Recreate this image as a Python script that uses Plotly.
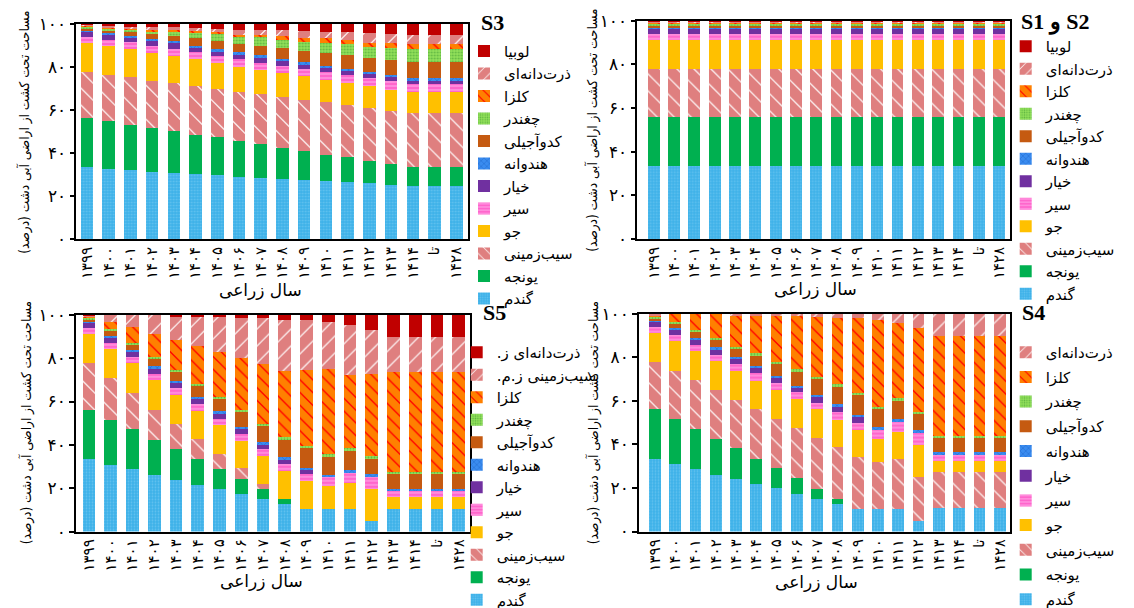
import plotly.graph_objects as go

# ---------------- data ----------------
years = ["۱۳۹۹", "۱۴۰۰", "۱۴۰۱", "۱۴۰۲", "۱۴۰۳", "۱۴۰۴", "۱۴۰۵", "۱۴۰۶", "۱۴۰۷",
         "۱۴۰۸", "۱۴۰۹", "۱۴۱۰", "۱۴۱۱", "۱۴۱۲", "۱۴۱۳", "۱۴۱۴", "تا", "۱۴۲۸"]
y_ticktext = ["۰", "۲۰", "۴۰", "۶۰", "۸۰", "۱۰۰"]

crops_main = ["گندم", "یونجه", "سیب‌زمینی", "جو", "سیر", "خیار", "هندوانه",
              "کدوآجیلی", "چغندر", "کلزا", "ذرت‌دانه‌ای", "لوبیا"]
crops_s5 = ["گندم", "یونجه", "سیب‌زمینی", "جو", "سیر", "خیار", "هندوانه",
            "کدوآجیلی", "چغندر", "کلزا", "سیب‌زمینی ز.م.", "ذرت‌دانه‌ای ز."]
crops_s4 = ["گندم", "یونجه", "سیب‌زمینی", "جو", "سیر", "خیار", "هندوانه",
            "کدوآجیلی", "چغندر", "کلزا", "ذرت‌دانه‌ای"]

# S1 and S2 (constant pattern)
s12_wheat = [33.3, 33.3, 33.3, 33.3, 33.3, 33.3, 33.3, 33.3, 33.3, 33.3, 33.3, 33.3, 33.3, 33.3, 33.3, 33.3, 33.3, 33.3]
s12_alfalfa = [22.8, 22.8, 22.8, 22.8, 22.8, 22.8, 22.8, 22.8, 22.8, 22.8, 22.8, 22.8, 22.8, 22.8, 22.8, 22.8, 22.8, 22.8]
s12_potato = [21.6, 21.6, 21.6, 21.6, 21.6, 21.6, 21.6, 21.6, 21.6, 21.6, 21.6, 21.6, 21.6, 21.6, 21.6, 21.6, 21.6, 21.6]
s12_barley = [13.4, 13.4, 13.4, 13.4, 13.4, 13.4, 13.4, 13.4, 13.4, 13.4, 13.4, 13.4, 13.4, 13.4, 13.4, 13.4, 13.4, 13.4]
s12_garlic = [2.8, 2.8, 2.8, 2.8, 2.8, 2.8, 2.8, 2.8, 2.8, 2.8, 2.8, 2.8, 2.8, 2.8, 2.8, 2.8, 2.8, 2.8]
s12_cucumber = [2.2, 2.2, 2.2, 2.2, 2.2, 2.2, 2.2, 2.2, 2.2, 2.2, 2.2, 2.2, 2.2, 2.2, 2.2, 2.2, 2.2, 2.2]
s12_watermelon = [1.1, 1.1, 1.1, 1.1, 1.1, 1.1, 1.1, 1.1, 1.1, 1.1, 1.1, 1.1, 1.1, 1.1, 1.1, 1.1, 1.1, 1.1]
s12_pumpkin = [0.9, 0.9, 0.9, 0.9, 0.9, 0.9, 0.9, 0.9, 0.9, 0.9, 0.9, 0.9, 0.9, 0.9, 0.9, 0.9, 0.9, 0.9]
s12_beet = [0.8, 0.8, 0.8, 0.8, 0.8, 0.8, 0.8, 0.8, 0.8, 0.8, 0.8, 0.8, 0.8, 0.8, 0.8, 0.8, 0.8, 0.8]
s12_canola = [0.4, 0.4, 0.4, 0.4, 0.4, 0.4, 0.4, 0.4, 0.4, 0.4, 0.4, 0.4, 0.4, 0.4, 0.4, 0.4, 0.4, 0.4]
s12_corn = [0.3, 0.3, 0.3, 0.3, 0.3, 0.3, 0.3, 0.3, 0.3, 0.3, 0.3, 0.3, 0.3, 0.3, 0.3, 0.3, 0.3, 0.3]
s12_bean = [0.4, 0.4, 0.4, 0.4, 0.4, 0.4, 0.4, 0.4, 0.4, 0.4, 0.4, 0.4, 0.4, 0.4, 0.4, 0.4, 0.4, 0.4]

# S3
s3_wheat = [33.3, 32.6, 32.0, 31.3, 30.8, 30.2, 29.9, 29.1, 28.6, 28.0, 27.5, 26.8, 26.5, 25.9, 25.3, 24.8, 24.8, 24.8]
s3_alfalfa = [22.8, 22.2, 21.2, 20.3, 19.3, 18.4, 17.4, 16.4, 15.5, 14.5, 13.5, 12.5, 11.6, 10.5, 9.7, 8.9, 8.9, 8.9]
s3_potato = [21.6, 21.6, 22.1, 22.1, 22.4, 22.7, 22.7, 23.0, 23.5, 23.6, 23.6, 24.3, 24.3, 24.7, 24.7, 24.7, 24.7, 24.7]
s3_barley = [13.4, 13.5, 13.2, 12.8, 12.7, 12.5, 12.0, 11.6, 10.8, 10.9, 11.1, 10.5, 10.3, 9.9, 9.7, 9.8, 9.8, 9.8]
s3_garlic = [2.8, 2.9, 3.0, 3.3, 3.3, 3.0, 3.0, 3.7, 3.7, 3.7, 3.4, 3.7, 3.7, 3.7, 3.9, 3.9, 3.9, 3.9]
s3_cucumber = [2.2, 2.0, 1.9, 2.4, 2.7, 2.2, 2.2, 1.8, 2.4, 2.2, 1.8, 1.9, 1.9, 1.9, 1.9, 1.8, 1.8, 1.8]
s3_watermelon = [1.1, 1.0, 1.0, 0.9, 0.7, 1.0, 1.0, 1.2, 0.9, 1.0, 1.5, 1.0, 1.0, 1.0, 1.0, 0.9, 0.9, 0.9]
s3_pumpkin = [0.9, 1.4, 1.9, 2.1, 2.5, 3.4, 3.7, 3.9, 4.5, 4.9, 5.2, 5.9, 6.2, 6.7, 7.0, 7.6, 7.6, 7.6]
s3_beet = [0.8, 0.9, 1.0, 1.5, 1.9, 2.5, 3.4, 3.3, 3.9, 4.0, 4.2, 4.5, 5.2, 4.9, 5.6, 5.9, 5.9, 5.9]
s3_canola = [0.4, 0.5, 0.5, 0.6, 0.7, 0.9, 1.0, 0.8, 1.0, 1.5, 1.9, 2.2, 1.9, 2.1, 2.2, 2.2, 2.2, 2.2]
s3_corn = [0.3, 0.6, 1.0, 1.5, 1.8, 1.3, 1.5, 2.5, 2.5, 2.7, 3.0, 3.0, 3.7, 4.5, 4.5, 4.5, 4.5, 4.5]
s3_bean = [0.4, 0.7, 1.2, 1.2, 1.2, 1.9, 2.2, 2.7, 2.7, 3.0, 3.3, 3.7, 3.7, 4.2, 4.5, 5.0, 5.0, 5.0]

# S5
s5_wheat = [33.3, 30.6, 28.7, 26.1, 23.9, 21.7, 19.5, 17.3, 14.8, 12.6, 10.3, 10.3, 10.2, 4.7, 10.6, 10.6, 10.6, 10.6]
s5_alfalfa = [22.8, 21.0, 18.5, 16.2, 14.0, 11.8, 9.3, 6.9, 4.7, 2.2, 0, 0, 0, 0, 0, 0, 0, 0]
s5_potato = [21.6, 19.2, 16.7, 14.0, 11.8, 9.2, 7.2, 4.9, 2.5, 0, 0, 0, 0, 0, 0, 0, 0, 0]
s5_barley = [13.4, 13.3, 13.7, 13.6, 13.3, 13.0, 13.0, 12.9, 13.0, 13.1, 12.9, 10.6, 12.3, 14.8, 5.2, 5.2, 5.2, 5.2]
s5_garlic = [2.8, 3.1, 3.0, 3.0, 3.2, 3.2, 3.0, 3.1, 3.0, 3.1, 3.2, 4.1, 4.7, 5.9, 2.7, 2.7, 2.7, 2.7]
s5_cucumber = [2.2, 2.2, 2.2, 2.2, 2.2, 2.2, 2.2, 2.1, 2.1, 2.2, 2.1, 0, 0, 0, 0, 0, 0, 0]
s5_watermelon = [1.1, 1.0, 1.0, 1.2, 1.2, 1.2, 1.2, 1.2, 1.2, 1.0, 1.0, 1.0, 1.2, 1.0, 1.0, 1.0, 1.0, 1.0]
s5_pumpkin = [0.9, 2.5, 2.7, 3.7, 4.4, 5.2, 6.2, 6.9, 7.8, 8.4, 8.9, 8.9, 9.3, 7.4, 7.1, 7.1, 7.1, 7.1]
s5_beet = [0.8, 0.4, 0.7, 0.7, 0.7, 0.7, 0.7, 0.7, 0.7, 0.9, 1.0, 0.7, 0.7, 0.9, 1.0, 1.0, 1.0, 1.0]
s5_canola = [0.4, 3.4, 7.3, 10.6, 13.6, 17.4, 20.7, 24.1, 27.3, 30.6, 35.0, 39.4, 33.8, 38.0, 45.8, 45.8, 45.8, 45.8]
s5_potato_zm = [0.3, 3.2, 6.2, 8.6, 11.2, 13.6, 16.0, 18.5, 21.4, 23.6, 23.3, 21.6, 23.0, 20.2, 16.2, 16.2, 16.2, 16.2]
s5_corn_z = [0.4, 0, 0, 0, 0.3, 0.7, 1.0, 1.5, 1.5, 2.2, 2.2, 3.2, 4.7, 7.1, 10.3, 10.3, 10.3, 10.3]

# S4
s4_wheat = [33.3, 30.9, 28.7, 26.1, 23.9, 21.7, 19.8, 17.3, 14.8, 12.6, 10.3, 10.3, 10.2, 4.7, 10.6, 10.6, 10.6, 10.6]
s4_alfalfa = [22.8, 20.7, 18.5, 16.5, 14.3, 11.8, 9.3, 7.1, 4.7, 2.2, 0, 0, 0, 0, 0, 0, 0, 0]
s4_potato = [21.6, 22.2, 22.2, 22.2, 22.2, 22.5, 22.6, 22.9, 23.6, 23.9, 23.9, 21.7, 23.0, 20.2, 16.5, 16.5, 16.5, 16.5]
s4_barley = [13.4, 13.4, 13.3, 13.3, 13.4, 13.3, 13.3, 13.3, 13.0, 12.6, 12.6, 10.6, 12.6, 14.8, 5.3, 5.3, 5.3, 5.3]
s4_garlic = [2.8, 3.0, 3.0, 3.0, 3.0, 3.4, 3.2, 3.5, 3.0, 3.7, 3.2, 4.1, 4.4, 5.6, 2.5, 2.5, 2.5, 2.5]
s4_cucumber = [2.2, 2.2, 2.1, 2.4, 2.2, 2.2, 2.2, 1.9, 2.5, 2.2, 2.4, 0, 0, 0, 0, 0, 0, 0]
s4_watermelon = [1.1, 1.0, 1.0, 1.0, 1.0, 1.0, 1.0, 1.0, 1.0, 1.2, 1.3, 1.2, 1.5, 1.2, 1.5, 1.5, 1.5, 1.5]
s4_pumpkin = [0.9, 2.2, 3.0, 3.7, 4.1, 5.2, 5.9, 6.8, 7.5, 8.4, 9.0, 8.7, 8.7, 7.4, 6.6, 6.6, 6.6, 6.6]
s4_beet = [0.8, 0.7, 0.7, 0.7, 0.7, 0.7, 0.7, 0.7, 1.0, 0.7, 1.0, 0.7, 0.7, 1.0, 1.0, 1.0, 1.0, 1.0]
s4_canola = [0.4, 3.7, 7.7, 11.1, 14.5, 17.0, 20.7, 24.2, 27.3, 30.7, 34.4, 39.9, 34.7, 38.4, 45.8, 45.8, 45.8, 45.8]
s4_corn = [0.7, 0, 0, 0, 0.6, 1.2, 1.2, 1.2, 1.5, 1.8, 1.8, 2.7, 4.1, 6.6, 10.0, 10.0, 10.0, 10.0]

# ---------------- styles ----------------
STY = {
    "wheat": dict(color="#8AD4F6", pattern=dict(shape=".", fgcolor="#8AD4F6", bgcolor="#3DB1E8", size=3, solidity=0.3)),
    "alfalfa": dict(color="#00B050"),
    "potato": dict(color="#C00000", pattern=dict(shape="\\", fgcolor="#C00000", bgcolor="#FFFFFF", size=12, solidity=0.9)),
    "barley": dict(color="#FFC000"),
    "garlic": dict(color="#FFB0EE", pattern=dict(shape="-", fgcolor="#FFB8F0", bgcolor="#FF66CC", size=4, solidity=0.45)),
    "cucumber": dict(color="#7030A0"),
    "watermelon": dict(color="#0050C0", pattern=dict(shape="x", fgcolor="#0038A0", bgcolor="#3A8CF0", size=5, solidity=0.2)),
    "pumpkin": dict(color="#C55A11"),
    "beet": dict(color="#1E7B1E", pattern=dict(shape=".", fgcolor="#2A8A2A", bgcolor="#92E05A", size=3, solidity=0.3)),
    "canola": dict(color="#FFFF00", pattern=dict(shape="\\", fgcolor="#FFFF00", bgcolor="#FF0000", size=9, solidity=0.85)),
    "stripes": dict(color="#C00000", pattern=dict(shape="/", fgcolor="#C00000", bgcolor="#FFFFFF", size=12, solidity=0.9)),
    "darkred": dict(color="#C00000"),
}
keys12 = ["wheat", "alfalfa", "potato", "barley", "garlic", "cucumber", "watermelon",
          "pumpkin", "beet", "canola", "stripes", "darkred"]

PFONT = "DejaVu Sans"
RLM = "\u200f"

fig = go.Figure()


def add_panel(n, series, names, keys, legend, grouped=False):
    ax = "" if n == 1 else str(n)
    nser = len(series)
    for i, (vals, name, key) in enumerate(zip(series, names, keys)):
        st = STY[key]
        marker = dict(color=st["color"], line=dict(width=0))
        if "pattern" in st:
            marker["pattern"] = st["pattern"]
        kw = {}
        if grouped:
            kw["legendgroup"] = f"{legend}_{i}"
            kw["legendrank"] = 100 + (nser - 1 - i)
        fig.add_trace(go.Bar(
            x=years, y=vals, name=RLM + name + RLM, marker=marker,
            xaxis="x" + ax, yaxis="y" + ax, legend=legend, hoverinfo="skip", **kw))


add_panel(1, [s3_wheat, s3_alfalfa, s3_potato, s3_barley, s3_garlic, s3_cucumber, s3_watermelon,
              s3_pumpkin, s3_beet, s3_canola, s3_corn, s3_bean], crops_main, keys12, "legend")
add_panel(2, [s12_wheat, s12_alfalfa, s12_potato, s12_barley, s12_garlic, s12_cucumber, s12_watermelon,
              s12_pumpkin, s12_beet, s12_canola, s12_corn, s12_bean], crops_main, keys12, "legend2")
add_panel(3, [s5_wheat, s5_alfalfa, s5_potato, s5_barley, s5_garlic, s5_cucumber, s5_watermelon,
              s5_pumpkin, s5_beet, s5_canola, s5_potato_zm, s5_corn_z], crops_s5, keys12, "legend3")
add_panel(4, [s4_wheat, s4_alfalfa, s4_potato, s4_barley, s4_garlic, s4_cucumber, s4_watermelon,
              s4_pumpkin, s4_beet, s4_canola, s4_corn], crops_s4, keys12[:11], "legend4", grouped=True)

W, H = 1134, 608


def px_x(v):
    return v / W


def px_y(v):
    return 1 - v / H


def xaxis(x0, x1, rng, anchor):
    return dict(domain=[px_x(x0), px_x(x1)], range=rng, anchor=anchor, type="category",
                tickangle=-90, tickfont=dict(family=PFONT, size=15, color="black"),
                showline=True, linecolor="black", linewidth=1.5, mirror=True, ticks="",
                showgrid=False, zeroline=False, automargin=False, fixedrange=True)


def yaxis(top, bottom, anchor):
    return dict(domain=[px_y(bottom), px_y(top)], range=[0, 100], anchor=anchor,
                tickvals=[0, 20, 40, 60, 80, 100], ticktext=y_ticktext,
                tickfont=dict(family=PFONT, size=17, color="black"),
                ticks="outside", ticklen=5, tickwidth=1.5, tickcolor="black",
                showline=True, linecolor="black", linewidth=1.5, mirror=True,
                showgrid=False, zeroline=False, automargin=False, fixedrange=True)


def legend_cfg(x_px, y_px, gap=None):
    d = dict(x=px_x(x_px), y=px_y(y_px), xanchor="left", yanchor="top",
             font=dict(family=PFONT, size=15, color="black"), bgcolor="rgba(0,0,0,0)",
             borderwidth=0, traceorder="reversed", itemclick=False, itemdoubleclick=False)
    if gap is not None:
        d["traceorder"] = "grouped"
        d["tracegroupgap"] = gap
    return d


fig.update_layout(
    width=W, height=H, margin=dict(l=0, r=0, t=0, b=0),
    paper_bgcolor="white", plot_bgcolor="white",
    barmode="stack", bargap=0.42, showlegend=True,
    xaxis=xaxis(68.3, 460, [-0.49, 17.54], "y"),
    yaxis=yaxis(16.7, 241, "x"),
    xaxis2=xaxis(629.3, 1002.3, [-0.81, 17.55], "y2"),
    yaxis2=yaxis(13.3, 241, "x2"),
    xaxis3=xaxis(68, 462.3, [-0.6, 17.53], "y3"),
    yaxis3=yaxis(320, 546, "x3"),
    xaxis4=xaxis(631, 1002.3, [-0.78, 17.52], "y4"),
    yaxis4=yaxis(318.7, 546, "x4"),
    legend=legend_cfg(456, 28),
    legend2=legend_cfg(997.7, 23),
    legend3=legend_cfg(448.7, 342),
    legend4=legend_cfg(997.7, 342, gap=2.2),
)

ytitle = RLM + "مساحت تحت کشت از اراضی آبی دشت (درصد)" + RLM
xtitle = "سال زراعی"
ann = []
for (xp, yp) in [(17, 130), (585, 128), (18, 433), (585, 433)]:
    ann.append(dict(x=px_x(xp), y=px_y(yp), xref="paper", yref="paper", text=ytitle,
                    textangle=-90, showarrow=False, xanchor="center", yanchor="middle",
                    font=dict(family="DejaVu Sans Condensed", size=13.5, color="black")))
for (xp, yp) in [(252, 294), (807, 293), (253, 598), (808, 599)]:
    ann.append(dict(x=px_x(xp), y=px_y(yp), xref="paper", yref="paper", text=xtitle,
                    showarrow=False, xanchor="center", yanchor="middle",
                    font=dict(family=PFONT, size=17, color="black")))
for (txt, xp, yp) in [("S3", 471, 15.5), ("S1 و S2", 1011, 15), ("S5", 473, 317.5), ("S4", 1012, 317.5)]:
    ann.append(dict(x=px_x(xp), y=px_y(yp), xref="paper", yref="paper", text="<b>" + txt + "</b>",
                    showarrow=False, xanchor="left", yanchor="middle",
                    font=dict(family="Liberation Serif", size=22, color="black")))
fig.update_layout(annotations=ann)

fig.write_html("out.html")
